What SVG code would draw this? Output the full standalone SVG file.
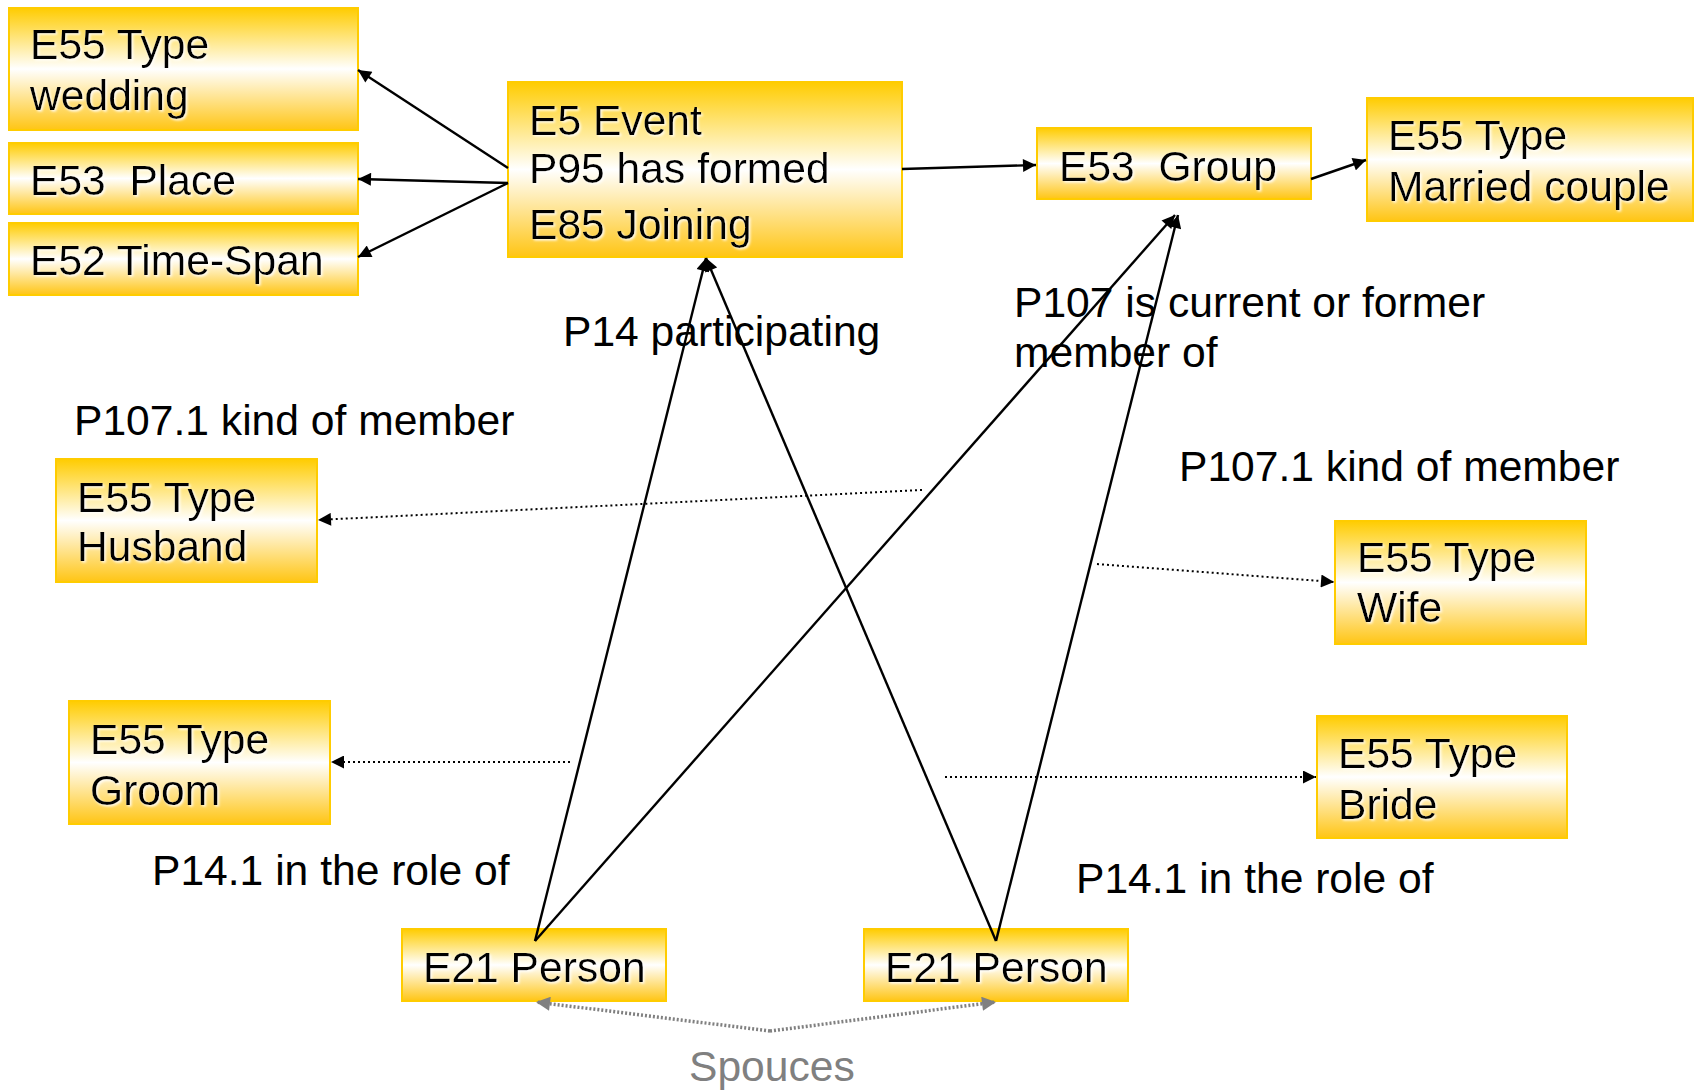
<svg xmlns="http://www.w3.org/2000/svg" width="1698" height="1091" viewBox="0 0 1698 1091">
<style>
.box{fill:url(#gold);stroke:#FFCC00;stroke-width:2}
.t{font-family:"Liberation Sans",Arial,sans-serif;font-size:42.6px;fill:#000;white-space:pre}
.bt{filter:url(#sh)}
.lbl{font-family:"Liberation Sans",Arial,sans-serif;font-size:42.6px;fill:#000}
.sol{stroke:#000;stroke-width:2.4;fill:none;marker-end:url(#ah)}
.dot{stroke:#000;stroke-width:2;fill:none;stroke-dasharray:2 3;marker-end:url(#ah)}
.gdot{stroke:#808080;stroke-width:3.5;fill:none;stroke-dasharray:2 2;marker-end:url(#gah)}
</style>
<defs>
<linearGradient id="gold" x1="0" y1="0" x2="0" y2="1">
<stop offset="0" stop-color="#FFCC00"/>
<stop offset="0.5" stop-color="#FFFFFF"/>
<stop offset="1" stop-color="#FFC514"/>
</linearGradient>
<filter id="sh" x="-5%" y="-20%" width="110%" height="140%">
<feDropShadow dx="1.5" dy="1.5" stdDeviation="0.8" flood-color="#FFFFFF" flood-opacity="0.9"/>
</filter>
<marker id="ah" viewBox="0 0 10 10" refX="10" refY="5" markerWidth="15" markerHeight="13" markerUnits="userSpaceOnUse" orient="auto">
<path d="M0,0 L10,5 L0,10 z" fill="#000"/>
</marker>
<marker id="gah" viewBox="0 0 10 10" refX="10" refY="5" markerWidth="16" markerHeight="14" markerUnits="userSpaceOnUse" orient="auto">
<path d="M0,0 L10,5 L0,10 z" fill="#808080"/>
</marker>
</defs>
<rect width="1698" height="1091" fill="#FFFFFF"/>

<g id="n-wedding"><rect class="box" x="9" y="8" width="349" height="122"/>
<text class="t bt" x="30" y="59">E55 Type</text><text class="t bt" x="30" y="110">wedding</text></g>
<g id="n-place"><rect class="box" x="9" y="143" width="349" height="71"/>
<text class="t bt" x="30" y="195" xml:space="preserve">E53  Place</text></g>
<g id="n-timespan"><rect class="box" x="9" y="223" width="349" height="72"/>
<text class="t bt" x="30" y="275">E52 Time-Span</text></g>
<g id="n-event"><rect class="box" x="508" y="82" width="394" height="175"/>
<text class="t bt" x="529" y="135">E5 Event</text><text class="t bt" x="529" y="183">P95 has formed</text><text class="t bt" x="529" y="239">E85 Joining</text></g>
<g id="n-group"><rect class="box" x="1037" y="128" width="274" height="71"/>
<text class="t bt" x="1059" y="181" xml:space="preserve">E53  Group</text></g>
<g id="n-married"><rect class="box" x="1367" y="98" width="326" height="123"/>
<text class="t bt" x="1388" y="150">E55 Type</text><text class="t bt" x="1388" y="201">Married couple</text></g>
<g id="n-husband"><rect class="box" x="56" y="459" width="261" height="123"/>
<text class="t bt" x="77" y="512">E55 Type</text><text class="t bt" x="77" y="561">Husband</text></g>
<g id="n-wife"><rect class="box" x="1335" y="521" width="251" height="123"/>
<text class="t bt" x="1357" y="572">E55 Type</text><text class="t bt" x="1357" y="622">Wife</text></g>
<g id="n-groom"><rect class="box" x="69" y="701" width="261" height="123"/>
<text class="t bt" x="90" y="754">E55 Type</text><text class="t bt" x="90" y="805">Groom</text></g>
<g id="n-bride"><rect class="box" x="1317" y="716" width="250" height="122"/>
<text class="t bt" x="1338" y="768">E55 Type</text><text class="t bt" x="1338" y="819">Bride</text></g>
<g id="n-person1"><rect class="box" x="402" y="929" width="264" height="72"/>
<text class="t bt" x="423" y="982">E21 Person</text></g>
<g id="n-person2"><rect class="box" x="864" y="929" width="264" height="72"/>
<text class="t bt" x="885" y="982">E21 Person</text></g>

<g id="connectors">
<line class="sol" x1="508" y1="168" x2="358" y2="70"/>
<line class="sol" x1="508" y1="183" x2="358" y2="179"/>
<line class="sol" x1="508" y1="183" x2="358" y2="257"/>
<line class="sol" x1="902" y1="169" x2="1036" y2="165"/>
<line class="sol" x1="1311" y1="179" x2="1366" y2="160"/>
<line class="sol" x1="535" y1="941" x2="706" y2="258"/>
<line class="sol" x1="996" y1="941" x2="706" y2="258"/>
<line class="sol" x1="535" y1="941" x2="1175" y2="215"/>
<line class="sol" x1="996" y1="941" x2="1178" y2="215"/>
<line class="dot" x1="922" y1="490" x2="318" y2="520"/>
<line class="dot" x1="1097" y1="564" x2="1334" y2="582"/>
<line class="dot" x1="570" y1="762" x2="331" y2="762"/>
<line class="dot" x1="945" y1="777" x2="1316" y2="777"/>
<line class="gdot" x1="770" y1="1031" x2="536" y2="1002"/>
<line class="gdot" x1="770" y1="1031" x2="996" y2="1002"/>
</g>

<g id="labels">
<text class="lbl" x="563" y="346">P14 participating</text>
<text class="lbl" x="1014" y="317">P107 is current or former</text>
<text class="lbl" x="1014" y="367">member of</text>
<text class="lbl" x="74" y="435">P107.1 kind of member</text>
<text class="lbl" x="1179" y="481">P107.1 kind of member</text>
<text class="lbl" x="152" y="885">P14.1 in the role of</text>
<text class="lbl" x="1076" y="893">P14.1 in the role of</text>
<text class="lbl" x="689" y="1081" style="fill:#808080">Spouces</text>
</g>
</svg>
